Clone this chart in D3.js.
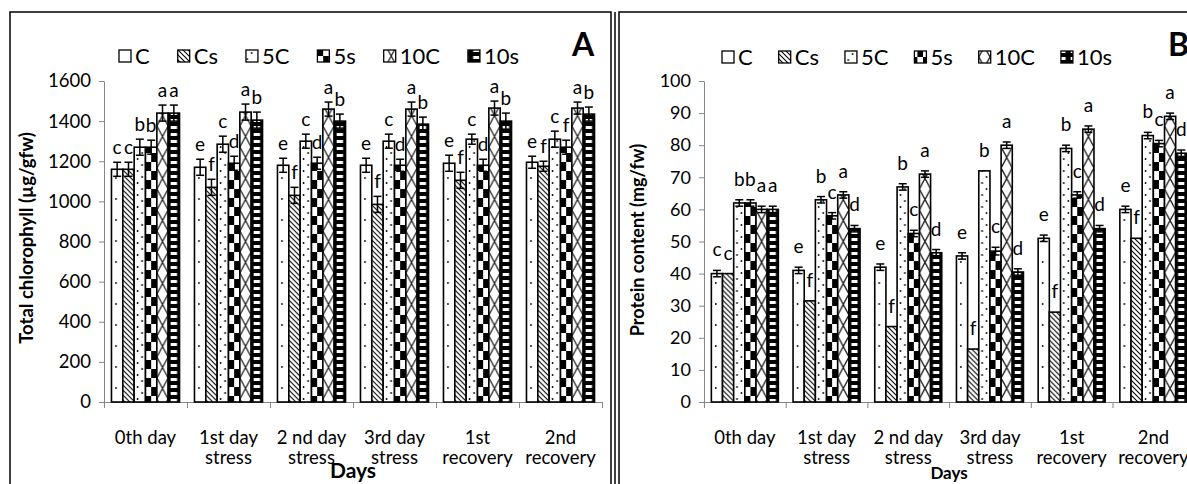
<!DOCTYPE html>
<html>
<head>
<meta charset="utf-8">
<script src="https://cdn.jsdelivr.net/npm/d3@7"></script>
<style>
  body { margin: 0; background: #fff; }
  text { font-family: Lato, "Open Sans", sans-serif; }
</style>
</head>
<body>
<svg id="chart" width="1187" height="484"></svg>
<script>
const seriesNames = ["C", "Cs", "5C", "5s", "10C", "10s"];
const dayLabels = ["0th day", "1st day|stress", "2 nd day|stress", "3rd day|stress", "1st|recovery", "2nd|recovery"];

// A: total chlorophyll (µg/gfw) - one row per series, one column per day
const chlorophyll = [
  [1160, 1170, 1180, 1180, 1190, 1195],
  [1160, 1070, 1030, 985, 1105, 1175],
  [1270, 1285, 1300, 1300, 1310, 1310],
  [1270, 1190, 1190, 1180, 1180, 1270],
  [1440, 1445, 1460, 1460, 1465, 1465],
  [1440, 1405, 1400, 1385, 1400, 1435]
];
const chlorophyllErr = [
  [35, 40, 35, 35, 40, 30],
  [35, 40, 40, 40, 40, 25],
  [40, 40, 35, 35, 25, 40],
  [35, 35, 30, 30, 30, 35],
  [40, 40, 35, 35, 35, 30],
  [40, 40, 35, 35, 40, 35]
];
const chlorophyllLetters = [
  ["c", "e", "e", "e", "e", "e"],
  ["c", "f", "f", "f", "f", "f"],
  ["b", "c", "c", "c", "c", "c"],
  ["b", "d", "d", "d", "d", "f"],
  ["a", "a", "a", "a", "a", "a"],
  ["a", "b", "b", "b", "b", "b"]
];
const chlorophyllTicks = [0, 200, 400, 600, 800, 1000, 1200, 1400, 1600];

// B: protein content (mg/fw)
const protein = [
  [40, 41, 42, 45.5, 51, 60],
  [40, 31.5, 23.5, 16.5, 28, 51],
  [62, 63, 67, 72, 79, 83],
  [62, 58, 52.5, 47, 64.5, 80.5],
  [60, 64.5, 71, 80, 85, 89],
  [60, 54, 46.5, 40.5, 54, 77.5]
];
const proteinErr = [
  [1, 1, 1, 1, 1, 1],
  [0, 0, 0, 0, 0, 0],
  [1, 1, 1, 0, 1, 1],
  [1, 1, 1, 1.2, 1, 1],
  [1, 1, 1, 1, 1, 1],
  [1, 1, 1, 1, 1, 1]
];
const proteinLetters = [
  ["c", "e", "e", "e", "e", "e"],
  ["c", "f", "f", "f", "f", "f"],
  ["b", "b", "b", "b", "b", "b"],
  ["b", "c", "c", "c", "c", "c"],
  ["a", "a", "a", "a", "a", "a"],
  ["a", "d", "d", "d", "d", "d"]
];
const proteinTicks = [0, 10, 20, 30, 40, 50, 60, 70, 80, 90, 100];

const svg = d3.select("#chart");
const defs = svg.append("defs");

// black & white fills, one per series; width follows the bar width
function makePatterns(id, w) {
  const p = (name, pw, ph) => defs.append("pattern")
    .attr("id", id + name).attr("patternUnits", "userSpaceOnUse")
    .attr("width", pw).attr("height", ph);

  let pt = p("C", w, 21);
  pt.append("rect").attr("width", w).attr("height", 21).attr("fill", "#fff");
  pt.append("circle").attr("cx", w * 0.4).attr("cy", 10).attr("r", 0.9).attr("fill", "#000");

  pt = p("Cs", 5, 5);
  pt.append("rect").attr("width", 5).attr("height", 5).attr("fill", "#fff");
  pt.append("path").attr("d", "M0,0L5,5M-1,4L1,6M4,-1L6,1")
    .attr("stroke", "#000").attr("stroke-width", 1.1);

  pt = p("5C", w, 12);
  pt.append("rect").attr("width", w).attr("height", 12).attr("fill", "#fff");
  pt.append("circle").attr("cx", w * 0.3).attr("cy", 3).attr("r", 0.9).attr("fill", "#000");
  pt.append("circle").attr("cx", w * 0.7).attr("cy", 9).attr("r", 0.9).attr("fill", "#000");

  pt = p("5s", w, 18);
  pt.append("rect").attr("width", w).attr("height", 18).attr("fill", "#fff");
  pt.append("rect").attr("width", w / 2).attr("height", 9).attr("fill", "#000");
  pt.append("rect").attr("x", w / 2).attr("y", 9).attr("width", w / 2).attr("height", 9).attr("fill", "#000");

  pt = p("10C", w, 21);
  pt.append("rect").attr("width", w).attr("height", 21).attr("fill", "#fff");
  pt.append("path").attr("d", `M0,0L${w},21M${w},0L0,21`)
    .attr("stroke", "#222").attr("stroke-width", 1.3);

  pt = p("10s", w, 7);
  pt.append("rect").attr("width", w).attr("height", 7).attr("fill", "#000");
  pt.append("rect").attr("x", 2.5).attr("width", w - 5).attr("height", 3).attr("fill", "#fff");
}

function drawPanel(o) {
  const g = svg.append("g");

  const x = d3.scaleBand().domain(dayLabels)
    .range([o.x0, o.x0 + 6 * o.step]).paddingInner(0.18).paddingOuter(0.09);
  const xs = d3.scaleBand().domain(seriesNames).range([0, x.bandwidth()]);
  const y = d3.scaleLinear().domain([0, o.ticks[o.ticks.length - 1]]).range([o.yBase, o.yTop]);

  makePatterns(o.id, xs.bandwidth());

  // y axis
  const yAxis = g.append("g")
    .attr("transform", `translate(${o.x0},0)`)
    .call(d3.axisLeft(y).tickValues(o.ticks).tickFormat(d3.format("d"))
      .tickSize(5).tickSizeOuter(0).tickPadding(8));
  yAxis.select(".domain").attr("stroke", "#868686");
  yAxis.selectAll(".tick line").attr("stroke", "#868686");
  yAxis.selectAll(".tick text").attr("font-size", o.tickFont).attr("fill", "#000")
    .attr("font-family", "Lato, sans-serif");

  // x axis: line + ticks at category boundaries
  const xb = d3.scaleLinear().domain([0, 6]).range([o.x0, o.x0 + 6 * o.step]);
  const xAxis = g.append("g")
    .attr("transform", `translate(0,${o.yBase})`)
    .call(d3.axisBottom(xb).ticks(6).tickSize(6).tickSizeOuter(0).tickFormat(""));
  xAxis.select(".domain").attr("stroke", "#868686");
  xAxis.selectAll(".tick line").attr("stroke", "#868686");

  // category labels
  const xl = g.append("g")
    .attr("transform", `translate(0,${o.yBase})`)
    .call(d3.axisBottom(x).tickSize(0).tickFormat(""));
  xl.select(".domain").remove();
  xl.selectAll(".tick").append("text")
    .attr("text-anchor", "middle").attr("font-size", 18.5).attr("fill", "#000")
    .each(function (d) {
      const parts = d.split("|");
      parts.forEach((t, i) => {
        d3.select(this).append("tspan").attr("x", 0).attr("y", 42 + i * 19.5).text(t);
      });
    });

  // bars
  seriesNames.forEach((s, si) => {
    dayLabels.forEach((day, di) => {
      const v = o.values[si][di];
      const bx = x(day) + xs(s);
      const bw = xs.bandwidth();
      const bg = g.append("g").attr("transform", `translate(${bx},0)`);
      bg.append("rect")
        .attr("x", 0).attr("y", y(v))
        .attr("width", bw).attr("height", y(0) - y(v))
        .attr("fill", `url(#${o.id}${s})`)
        .attr("stroke", "#000").attr("stroke-width", 1.6);
    });
  });

  // error bars + letters on top
  seriesNames.forEach((s, si) => {
    dayLabels.forEach((day, di) => {
      const v = o.values[si][di];
      const e = o.errs[si][di];
      const cx = x(day) + xs(s) + xs.bandwidth() / 2;
      if (e > 0) {
        const eb = g.append("g").attr("stroke", "#000").attr("stroke-width", 1.5);
        eb.append("line").attr("x1", cx).attr("x2", cx).attr("y1", y(v - e)).attr("y2", y(v + e));
        [v - e, v + e].forEach(t => {
          eb.append("line").attr("x1", cx - 4).attr("x2", cx + 4).attr("y1", y(t)).attr("y2", y(t));
        });
      }
      g.append("text")
        .attr("x", cx).attr("y", y(v + e) - o.gap)
        .attr("text-anchor", "middle").attr("font-size", 19).attr("fill", "#000")
        .text(o.letters[si][di]);
    });
  });

  // axis titles
  g.append("text")
    .attr("transform", `translate(${o.titleX},${o.titleY}) rotate(-90)`)
    .attr("text-anchor", "middle").attr("font-weight", "bold")
    .attr("font-size", o.titleFont).text(o.yTitle);
  g.append("text")
    .attr("x", o.x0 + 3 * o.step).attr("y", o.daysY)
    .attr("text-anchor", "middle").attr("font-weight", "bold")
    .attr("font-size", o.daysFont).text("Days");

  // legend
  const lg = g.append("g").attr("transform", `translate(${o.legendX},${o.legendY})`);
  let lx = 0;
  seriesNames.forEach(s => {
    lg.append("rect").attr("x", lx).attr("y", -6).attr("width", 12).attr("height", 12)
      .attr("fill", `url(#${o.id}${s})`).attr("stroke", "#000").attr("stroke-width", 1.3);
    const t = lg.append("text").attr("x", lx + 16).attr("y", 8)
      .attr("font-size", 22).text(s);
    lx += 16 + t.node().getComputedTextLength() + o.legendGap;
  });

  // panel letter
  g.append("text").attr("x", o.tagX).attr("y", 56)
    .attr("font-size", 32).attr("font-weight", "bold").text(o.tag);
}

// panel frames
svg.append("rect").attr("x", 10).attr("y", 12).attr("width", 601).attr("height", 480)
  .attr("fill", "none").attr("stroke", "#000").attr("stroke-width", 1.5);
svg.append("line").attr("x1", 615).attr("x2", 615).attr("y1", 12).attr("y2", 484)
  .attr("stroke", "#000").attr("stroke-width", 1.5);
svg.append("rect").attr("x", 619).attr("y", 12).attr("width", 600).attr("height", 480)
  .attr("fill", "none").attr("stroke", "#000").attr("stroke-width", 1.5);

drawPanel({
  id: "a", x0: 104, step: 83, yBase: 402, yTop: 81,
  ticks: chlorophyllTicks, values: chlorophyll, errs: chlorophyllErr, letters: chlorophyllLetters,
  gap: 8, tickFont: 18.5,
  yTitle: "Total chlorophyll (µg/gfw)", titleX: 33, titleY: 238, titleFont: 18.5,
  daysY: 478, daysFont: 21,
  legendX: 119, legendY: 56, legendGap: 28, tag: "A", tagX: 572
});

drawPanel({
  id: "b", x0: 704, step: 81.7, yBase: 402, yTop: 81,
  ticks: proteinTicks, values: protein, errs: proteinErr, letters: proteinLetters,
  gap: 14, tickFont: 18,
  yTitle: "Protein content (mg/fw)", titleX: 644, titleY: 240, titleFont: 18,
  daysY: 479, daysFont: 17,
  legendX: 722, legendY: 57, legendGap: 26, tag: "B", tagX: 1168
});
</script>
</body>
</html>
